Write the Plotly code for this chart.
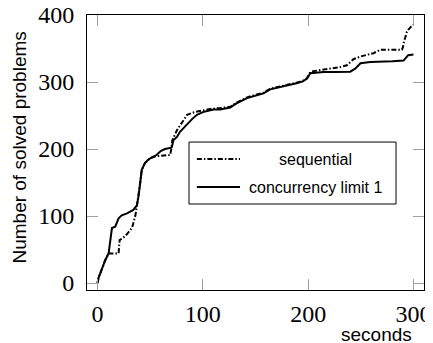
import plotly.graph_objects as go

# ---- data ----
conc_x = [0, 1, 2.6, 5, 7.3, 10.5, 12, 13.7, 16.8, 18, 20, 23, 28, 34, 37.4, 39, 40.5, 42, 45,
          48, 52, 56, 60, 64, 70, 70.6, 72, 75.4, 78.5, 82, 85, 90, 94.4, 100, 110, 116.5, 126,
          132, 142, 150, 157.6, 164, 172, 180, 189, 195, 199, 202, 208, 214.6, 225, 240, 244.7,
          249.7, 259, 265, 280, 290.6, 295, 300]
conc_y = [0, 8, 14.5, 25, 34, 44, 60, 82, 84, 88, 96.6, 101, 104, 109, 116, 130, 149, 169, 179,
          184, 188, 191, 197, 200, 202, 203, 213, 218, 226, 232, 238, 245, 251, 255, 259, 259, 262,
          268, 276, 280, 283, 289, 292, 294, 298, 301, 305, 313, 314, 315, 315, 315.4, 320,
          328, 330, 330, 331, 332, 340, 341]

seq_x = [0, 1, 2.6, 5, 7.3, 10.5, 15, 20, 20.5, 21, 24.7, 28, 32.7, 34, 36, 37.4, 39, 40.5, 42,
         45, 50, 55, 60, 69, 70, 71, 75.4, 80, 85, 92, 100.7, 108, 116, 126, 132, 142, 150, 157.6,
         164, 172, 180, 189, 195, 199, 202, 205, 211.5, 221, 230, 236.8, 240, 243, 249.7, 255,
         262, 268.5, 271.6, 280, 289, 290, 290.6, 293.8, 295, 298, 300]
seq_y = [0, 8, 14.5, 25, 34, 44, 44, 44, 55, 64, 68, 73, 82, 90, 101, 116, 130, 149, 169,
         179, 186, 189, 190, 191, 200, 213, 228, 240, 251, 255, 258, 260, 261, 263, 269, 277, 281, 284,
         290, 293, 295, 299, 302, 306, 315, 316, 318, 320, 322, 325, 330, 334, 338, 340,
         343, 348, 348, 348, 348, 352, 358, 375, 378, 383, 386]

x_ticks = [0, 100, 200, 300]
y_ticks = [0, 100, 200, 300, 400]
series_names = ["sequential", "concurrency limit 1"]

DASHDOT = "5px,2px,1.5px,2px"
SERIF = "Liberation Serif, Times New Roman, serif"
SANS = "Liberation Sans, Arial, sans-serif"

fig = go.Figure()
fig.add_trace(go.Scatter(x=seq_x, y=seq_y, mode="lines", name=series_names[0],
                         line=dict(color="black", width=2, dash=DASHDOT), showlegend=False))
fig.add_trace(go.Scatter(x=conc_x, y=conc_y, mode="lines", name=series_names[1],
                         line=dict(color="black", width=2), showlegend=False))

axis_common = dict(showgrid=False, zeroline=False, showline=True, linecolor="black",
                   linewidth=1, mirror="allticks", ticks="inside", ticklen=11,
                   tickcolor="#a0a0a0", tickwidth=1, automargin=False,
                   ticklabeloverflow="allow",
                   tickfont=dict(family=SERIF, size=24, color="black"))

# the page body has an 8px margin, so the figure is sized/offset to compensate
fig.update_layout(
    width=425, height=335,
    margin=dict(l=79, r=9, t=7, b=53, autoexpand=False),
    paper_bgcolor="white", plot_bgcolor="white",
    xaxis=dict(range=[-10, 310], tickvals=x_ticks, ticktext=[str(v) for v in x_ticks],
               ticklabelstandoff=2, **axis_common),
    yaxis=dict(range=[-10.45, 400], tickvals=y_ticks, ticktext=[str(v) for v in y_ticks],
               ticklabelstandoff=7, **axis_common),
)

# axis titles
fig.add_annotation(text="seconds", xref="paper", yref="paper", x=0.86, y=0, yshift=-44,
                   xanchor="center", yanchor="middle", showarrow=False,
                   font=dict(family=SANS, size=19, color="black"))
fig.add_annotation(text="Number of solved problems", xref="paper", yref="paper", x=0, y=0.518,
                   xshift=-67, textangle=-90, xanchor="center", yanchor="middle",
                   showarrow=False, font=dict(family=SANS, size=19, color="black"))

# legend box (custom, pgfplots style with centered text)
fig.add_shape(type="rect", xref="paper", yref="paper", x0=0.3027, x1=0.917, y0=0.3127, y1=0.538,
              line=dict(color="black", width=1), fillcolor="white", layer="above")
rows_y = [0.476, 0.3745]
dashes = [DASHDOT, "solid"]
for name, ry, dsh in zip(series_names, rows_y, dashes):
    fig.add_shape(type="line", xref="paper", yref="paper", x0=0.326, x1=0.454, y0=ry, y1=ry,
                  line=dict(color="black", width=2, dash=dsh), layer="above")
    fig.add_annotation(text=name, xref="paper", yref="paper", x=0.677, y=ry,
                       xanchor="center", yanchor="middle", showarrow=False,
                       font=dict(family=SANS, size=16, color="black"))

fig.write_html("out.html")
